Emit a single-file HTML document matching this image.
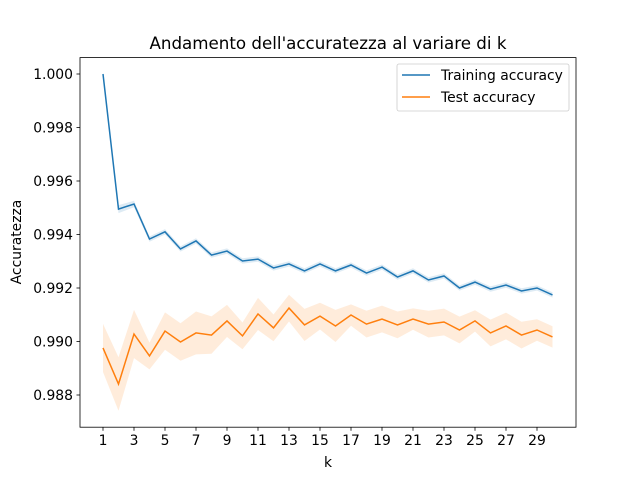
<!DOCTYPE html>
<html><head><meta charset="utf-8"><style>
body{margin:0;background:#fff;}
svg{font-family:"DejaVu Sans","Liberation Sans",sans-serif;}
</style></head><body>
<svg id="chart" width="640" height="480" xmlns="http://www.w3.org/2000/svg">
<rect width="640" height="480" fill="#fff"/>
<text x="328" y="49" text-anchor="middle" font-size="16.7">Andamento dell'accuratezza al variare di k</text>
<g id="bands"></g><g id="lines"></g><g id="axes"></g>
<rect x="80" y="57.6" width="496" height="369.6" fill="none" stroke="#000" stroke-width="0.8"/>
<text x="328" y="467" text-anchor="middle" font-size="13.9">k</text>
<text transform="translate(21,242) rotate(-90)" text-anchor="middle" font-size="13.9">Accuratezza</text>
<g>
<rect x="397" y="64" width="172" height="47" rx="2" fill="#fff" stroke="#ccc" stroke-width="0.8"/>
<line x1="402" y1="75" x2="430" y2="75" stroke="#1f77b4" stroke-width="1.5"/>
<text x="441" y="80" font-size="13.9">Training accuracy</text>
<line x1="402" y1="97" x2="430" y2="97" stroke="#ff7f0e" stroke-width="1.5"/>
<text x="441" y="102" font-size="13.9">Test accuracy</text>
</g>
</svg>
<script>
const ks=[1,2,3,4,5,6,7,8,9,10,11,12,13,14,15,16,17,18,19,20,21,22,23,24,25,26,27,28,29,30];
const trainAcc=[1.0,0.99495,0.99514,0.99383,0.99410,0.99346,0.99376,0.99323,0.99338,0.99301,0.99308,0.99275,0.99290,0.99264,0.99290,0.99264,0.99286,0.99256,0.99278,0.99241,0.99264,0.99230,0.99245,0.99200,0.99222,0.99196,0.99211,0.99189,0.99200,0.99174];
const trainErr=[0.00002,0.00015,0.00012,0.0001,0.0001,0.0001,0.0001,0.0001,0.0001,0.0001,0.0001,0.0001,0.0001,0.0001,0.0001,0.0001,0.0001,0.0001,0.0001,0.0001,0.0001,0.0001,0.0001,0.0001,0.0001,0.0001,0.0001,0.0001,0.0001,0.0001];
const testAcc=[0.98976,0.98841,0.99028,0.98946,0.99039,0.98998,0.99032,0.99024,0.99077,0.99021,0.99103,0.99051,0.99125,0.99062,0.99095,0.99058,0.99099,0.99065,0.99084,0.99062,0.99084,0.99065,0.99073,0.99043,0.99077,0.99032,0.99058,0.99024,0.99043,0.99017];
const testErr=[0.0009,0.001,0.0009,0.0005,0.0007,0.0007,0.0008,0.0007,0.0006,0.0005,0.0006,0.0005,0.0005,0.0006,0.0005,0.0006,0.0004,0.0005,0.0005,0.0005,0.0004,0.0005,0.0005,0.0005,0.0004,0.0005,0.0005,0.0005,0.0004,0.0004];
const xTicks=[1,3,5,7,9,11,13,15,17,19,21,23,25,27,29];
const yTicks=[0.988,0.990,0.992,0.994,0.996,0.998,1.000];
const X=k=>103+(k-1)*15.5;
const Y=v=>74+(1.0-v)*26750;
const NS="http://www.w3.org/2000/svg";
function mk(t,a,p){const e=document.createElementNS(NS,t);for(const k in a)e.setAttribute(k,a[k]);p.appendChild(e);return e;}
const bands=document.getElementById('bands'),lines=document.getElementById('lines'),axes=document.getElementById('axes');
function band(acc,err,col,name){
  const up=ks.map((k,i)=>X(k)+','+Y(acc[i]+err[i]));
  const lo=ks.map((k,i)=>X(k)+','+Y(acc[i]-err[i])).reverse();
  const p=mk('polygon',{points:up.concat(lo).join(' '),fill:col,'fill-opacity':0.15},bands);
  
  
}
function line(acc,col,name){
  const p=mk('polyline',{points:ks.map((k,i)=>X(k)+','+Y(acc[i])).join(' '),fill:'none',stroke:col,'stroke-width':1.5},lines);
  
  
}
band(trainAcc,trainErr,'#1f77b4','training-band');
band(testAcc,testErr,'#ff7f0e','test-band');
line(trainAcc,'#1f77b4','training-line');
line(testAcc,'#ff7f0e','test-line');
xTicks.forEach(k=>{
  const g=mk('g',{},axes);
  
  
  mk('line',{x1:X(k),x2:X(k),y1:427.2,y2:430.7,stroke:'#000','stroke-width':0.8},g);
  const t=mk('text',{x:X(k),y:445,'text-anchor':'middle','font-size':13.9},g);t.textContent=k;
});
yTicks.forEach(v=>{
  const g=mk('g',{},axes);
  
  
  mk('line',{x1:76.5,x2:80,y1:Y(v),y2:Y(v),stroke:'#000','stroke-width':0.8},g);
  const t=mk('text',{x:73,y:Y(v)+5,'text-anchor':'end','font-size':13.9},g);t.textContent=v.toFixed(3);
});
</script>
</body></html>
